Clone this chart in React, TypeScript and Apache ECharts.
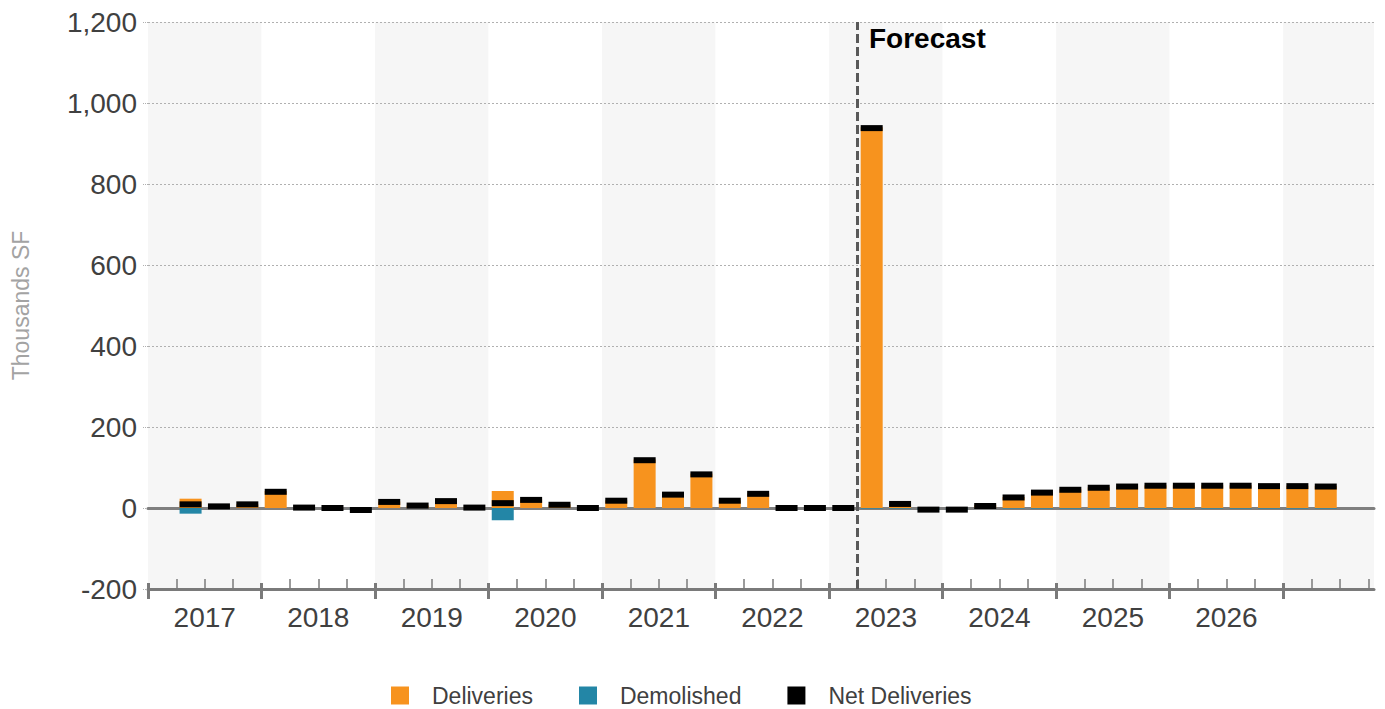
import React, { useEffect, useRef } from "react";
import * as echarts from "echarts";

// ---- data ----
const years = ["2017", "2018", "2019", "2020", "2021", "2022", "2023", "2024", "2025", "2026"];

const quarters = [
  "2017 Q2", "2017 Q3", "2017 Q4",
  "2018 Q1", "2018 Q2", "2018 Q3", "2018 Q4",
  "2019 Q1", "2019 Q2", "2019 Q3", "2019 Q4",
  "2020 Q1", "2020 Q2", "2020 Q3", "2020 Q4",
  "2021 Q1", "2021 Q2", "2021 Q3", "2021 Q4",
  "2022 Q1", "2022 Q2", "2022 Q3", "2022 Q4",
  "2023 Q1", "2023 Q2", "2023 Q3", "2023 Q4",
  "2024 Q1", "2024 Q2", "2024 Q3", "2024 Q4",
  "2025 Q1", "2025 Q2", "2025 Q3", "2025 Q4",
  "2026 Q1", "2026 Q2", "2026 Q3", "2026 Q4",
  "2027 Q1", "2027 Q2",
];

const deliveries = [
  23, 4, 9,
  42, 1, 0, 0,
  16, 6, 18, 1,
  42, 21, 9, 0,
  19, 120, 34, 85,
  19, 36, 0, 0,
  0, 940, 11, 0,
  0, 7, 27, 40,
  46, 51, 54, 56,
  56, 56, 56, 55,
  55, 54,
];

const demolished = [
  -14, 0, 0,
  0, 0, 0, -5,
  0, 0, 0, 0,
  -30, 0, 0, 0,
  0, 0, 0, 0,
  0, 0, 0, 0,
  0, -1.5, -1.5, -4,
  -4, -1.5, -1.5, -1.5,
  -1.5, -1.5, -1.5, -1.5,
  -1.5, -1.5, -1.5, -1.5,
  -1.5, -1.5,
];

const netDeliveries = [
  9, 4, 9,
  40, 1, 0, -5,
  15, 6, 17, 1,
  12, 20, 8, 0,
  18, 118, 33, 83,
  18, 35, 0, 0,
  0, 938, 10, -4,
  -4, 5, 26, 38,
  45, 50, 53, 55,
  55, 55, 55, 54,
  54, 53,
];

const forecastStart = "2023 Q2";
const forecastLabel = "Forecast";
const yTicks = [-200, 0, 200, 400, 600, 800, 1000, 1200];

// quarter label -> position on the quarterly value axis (quarters since 2017 Q1 start, centered)
const firstYear = Number(years[0]);
const quarterPos = (label: string) => {
  const [y, q] = label.split(" Q");
  return (Number(y) - firstYear) * 4 + (Number(q) - 1) + 0.5;
};

const AXIS_MAX = 43.2;
const FONT = "Liberation Sans, Arial, sans-serif";

export default function App() {
  const ref = useRef<HTMLDivElement>(null);

  useEffect(() => {
    if (!ref.current) return;
    const chart = echarts.init(ref.current, undefined, { renderer: "svg" });

    const majorTicks: number[] = [];
    const minorTicks: number[] = [];
    for (let i = 0; i <= Math.floor(AXIS_MAX); i++) {
      if (i % 4 === 0) majorTicks.push(i);
      else minorTicks.push(i);
    }
    const yearCenters = years.map((_, i) => i * 4 + 2);
    const forecastX = quarterPos(forecastStart) - 0.5;

    const baseX = { type: "value", min: 0, max: AXIS_MAX, gridIndex: 0, z: 0 };

    chart.setOption({
      animation: false,
      textStyle: { fontFamily: FONT },
      grid: { left: 148, right: 11, top: 22, bottom: 120, containLabel: false },
      legend: {
        left: 386,
        top: 679,
        icon: "rect",
        itemWidth: 18,
        itemHeight: 18,
        itemGap: 46,
        textStyle: { fontSize: 23, color: "#404040", padding: [0, 0, 0, 18], fontFamily: FONT },
        data: ["Deliveries", "Demolished", "Net Deliveries"],
      },
      xAxis: [
        {
          ...baseX,
          interval: 4,
          position: "bottom",
          axisLine: { show: false, onZero: false },
          axisTick: { show: false },
          axisLabel: { show: false },
          splitLine: { show: false },
          splitArea: { show: true, areaStyle: { color: ["#f6f6f6", "#ffffff"] } },
        },
        {
          ...baseX,
          interval: 4,
          position: "bottom",
          offset: -6,
          z: 2,
          axisLine: { show: false, onZero: false },
          axisTick: {
            show: true,
            customValues: majorTicks,
            length: 16,
            lineStyle: { color: "#7a7a7a", width: 3 },
          },
          axisLabel: {
            show: true,
            customValues: yearCenters,
            formatter: (v: number) => years[Math.round((v - 2) / 4)] ?? "",
            margin: 20,
            fontSize: 28,
            color: "#404040",
            fontFamily: FONT,
          },
          splitLine: { show: false },
        },
        {
          ...baseX,
          interval: 4,
          position: "bottom",
          z: 2,
          axisLine: { show: true, onZero: false, lineStyle: { color: "#7a7a7a", width: 3 } },
          axisTick: {
            show: true,
            inside: true,
            customValues: minorTicks,
            length: 10,
            lineStyle: { color: "#7a7a7a", width: 1.5 },
          },
          axisLabel: { show: false },
          splitLine: { show: false },
        },
        {
          ...baseX,
          interval: 4,
          z: 2,
          axisLine: { show: true, onZero: true, lineStyle: { color: "#7f7f7f", width: 3 } },
          axisTick: { show: false },
          axisLabel: { show: false },
          splitLine: { show: false },
        },
      ],
      yAxis: {
        type: "value",
        min: yTicks[0],
        max: yTicks[yTicks.length - 1],
        interval: 200,
        z: 1,
        name: "Thousands SF",
        nameLocation: "middle",
        nameGap: 116,
        nameTextStyle: { fontSize: 23, color: "#a3a3a3", fontFamily: FONT },
        axisLine: { show: false },
        axisTick: { show: true, length: 5, lineStyle: { color: "#b0b0b0", type: "dotted" } },
        axisLabel: {
          fontSize: 28,
          color: "#404040",
          margin: 11,
          fontFamily: FONT,
          formatter: (v: number) => v.toLocaleString("en-US"),
        },
        splitLine: { show: true, lineStyle: { color: "#b0b0b0", type: [2, 2], width: 1 } },
      },
      graphic: [
        {
          type: "text",
          x: 869,
          y: 24,
          z: 10,
          style: {
            text: forecastLabel,
            fontSize: 28,
            fontWeight: "bold",
            fontFamily: FONT,
            fill: "#000000",
          },
        },
      ],
      series: [
        {
          name: "Deliveries",
          type: "bar",
          stack: "q",
          xAxisIndex: 0,
          barWidth: 22,
          z: 3,
          itemStyle: { color: "#F7931E" },
          data: quarters.map((q, i) => [quarterPos(q), deliveries[i]]),
          markLine: {
            silent: true,
            symbol: "none",
            label: { show: false },
            lineStyle: { type: [9, 4], color: "#595959", width: 3 },
            data: [{ xAxis: forecastX }],
          },
        },
        {
          name: "Demolished",
          type: "bar",
          stack: "q",
          xAxisIndex: 0,
          barWidth: 22,
          z: 3,
          itemStyle: { color: "#2386A6" },
          data: quarters.map((q, i) => [quarterPos(q), demolished[i]]),
        },
        {
          name: "Net Deliveries",
          type: "scatter",
          xAxisIndex: 0,
          symbol: "rect",
          symbolSize: [22, 6],
          z: 5,
          itemStyle: { color: "#000000", opacity: 1 },
          data: quarters.map((q, i) => [quarterPos(q), netDeliveries[i]]),
        },
      ],
    });

    return () => chart.dispose();
  }, []);

  return (
    <div
      ref={ref}
      style={{ position: "fixed", left: 0, top: 0, width: 1385, height: 709, background: "#ffffff" }}
    />
  );
}
